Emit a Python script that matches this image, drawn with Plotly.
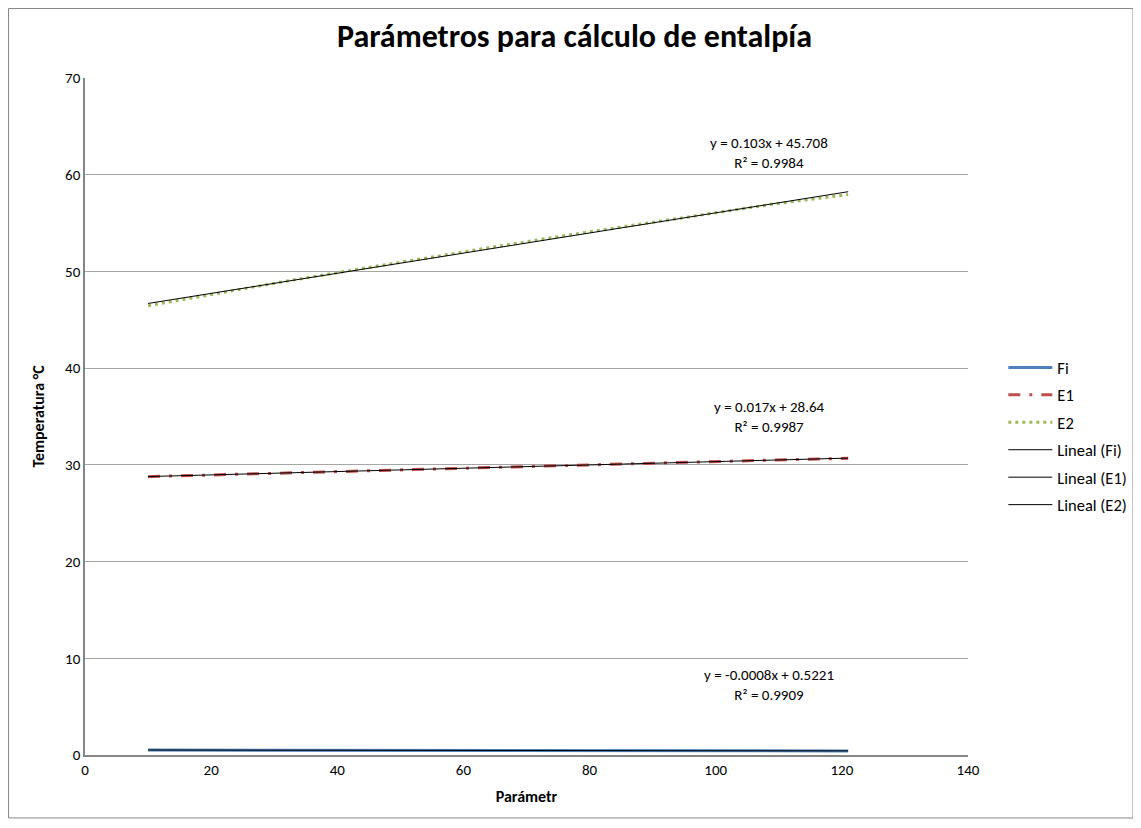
import numpy as np
import plotly.graph_objects as go

# Parameter values (x) and the three measured series
x_param = [10, 21, 32, 43, 54, 65, 76, 87, 98, 109, 121]
fi_vals = [0.514, 0.505, 0.497, 0.487, 0.479, 0.470, 0.461, 0.452, 0.444, 0.435, 0.424]
e1_vals = [28.78, 28.98, 29.17, 29.36, 29.55, 29.74, 29.93, 30.12, 30.31, 30.49, 30.68]
e2_vals = [46.45, 47.75, 49.00, 50.20, 51.40, 52.55, 53.70, 54.80, 55.90, 56.95, 57.95]

trend_labels = [
    "y = -0.0008x + 0.5221<br>R² = 0.9909",
    "y = 0.017x + 28.64<br>R² = 0.9987",
    "y = 0.103x + 45.708<br>R² = 0.9984",
]
label_pos = [(108.5, 7.2), (108.5, 35.0), (108.5, 62.2)]

FONT = "Carlito, Calibri, Lato, sans-serif"

fig = go.Figure()

# data series
fig.add_trace(go.Scatter(x=x_param, y=fi_vals, name="Fi", mode="lines",
                         line=dict(color="#4F81BD", width=3), legendgroup="a"))
fig.add_trace(go.Scatter(x=x_param, y=e1_vals, name="E1", mode="lines",
                         line=dict(color="#C0504D", width=3, dash="12px,9px,3px,9px"),
                         legendgroup="b"))
fig.add_trace(go.Scatter(x=x_param, y=e2_vals, name="E2", mode="lines",
                         line=dict(color="#9BBB59", width=3, dash="3px,4px"),
                         legendgroup="c"))

# linear trend lines (least squares on the data above)
xs = np.array(x_param, dtype=float)
for i, (nm, vals) in enumerate([("Fi", fi_vals), ("E1", e1_vals), ("E2", e2_vals)]):
    m, b = np.polyfit(xs, np.array(vals), 1)
    fig.add_trace(go.Scatter(x=[xs[0], xs[-1]], y=[m * xs[0] + b, m * xs[-1] + b],
                             name=f"Lineal ({nm})", mode="lines",
                             line=dict(color="#000000", width=1),
                             legendgroup=f"t{i}"))

for txt, (ax, ay) in zip(trend_labels, label_pos):
    fig.add_annotation(x=ax, y=ay, text=txt, showarrow=False,
                       font=dict(family=FONT, size=15, color="#000"),
                       xanchor="center", yanchor="middle", align="center")

# outer chart border
fig.add_shape(type="rect", xref="paper", yref="paper",
              x0=-0.0866, x1=1.1869, y0=-0.093, y1=1.1027,
              line=dict(color="#868686", width=1))

# page body has an 8px margin, so the figure is 8px smaller than the window
fig.update_layout(
    width=1133, height=820,
    margin=dict(l=77, r=173, t=70, b=73, autoexpand=False),
    paper_bgcolor="white", plot_bgcolor="white",
    font=dict(family=FONT, size=15, color="#000"),
    title=dict(text="<b>Parámetros para cálculo de entalpía</b>",
               x=0.5, xanchor="center", y=0.9658, yanchor="middle",
               font=dict(family=FONT, size=32, color="#000")),
    xaxis=dict(range=[0, 140], dtick=20, showgrid=False,
               showline=True, linecolor="#868686", linewidth=1.5,
               ticks="", zeroline=False, automargin=False,
               tickfont=dict(size=15),
               title=dict(text="<b>Parámetr</b>", font=dict(size=16), standoff=13)),
    yaxis=dict(range=[0, 70], dtick=10, showgrid=True, gridcolor="#A6A6A6",
               gridwidth=1, showline=True, linecolor="#868686", linewidth=1.5,
               ticks="", zeroline=False, automargin=False,
               tickfont=dict(size=15),
               title=dict(text="<b>Temperatura °C</b>", font=dict(size=16), standoff=16)),
    legend=dict(x=1.040, y=0.598, xanchor="left", yanchor="top",
                font=dict(size=16.5), tracegroupgap=3, itemwidth=44,
                bgcolor="rgba(0,0,0,0)"),
)

fig.write_html("out.html")
